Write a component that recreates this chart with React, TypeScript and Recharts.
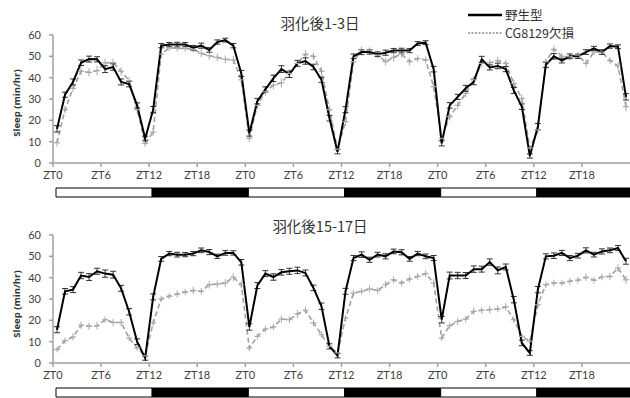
import React from 'react';
import { LineChart, Line, XAxis, YAxis, ErrorBar, BarChart, Bar } from 'recharts';

// hourly sleep (min/hr), 3 consecutive days (72 hours)
const youngWT = [
  16, 32, 38, 47, 48.7, 48.6, 44, 45, 38, 37, 27, 11.5, 25, 55, 55.5, 55.5, 55.5, 54, 55, 53, 56.7, 57.6, 55, 42,
  14, 29, 34.5, 39.7, 44, 41.6, 46.7, 47.8, 45, 39, 21, 5.3, 25, 50, 52, 52, 51, 51.7, 52.7, 52.7, 52.7, 56, 56.4, 44,
  9.2, 27, 31, 35, 38, 48.6, 44.8, 45.5, 44, 34, 26.4, 3.3, 17, 46, 50, 48, 50, 50, 52, 53.7, 52, 54.8, 54.5, 31,
];
const youngMut = [
  9.5, 25, 35, 43, 42.5, 43.3, 47, 47, 43, 38.6, 25, 9.2, 14.5, 51, 54, 53.7, 53.7, 53.3, 51.4, 50.3, 49.5, 48.6, 48.3, 39,
  11.6, 27, 33.4, 36.5, 37.6, 42, 46.7, 51, 50, 43, 25, 6.5, 19.4, 47.5, 53, 52.7, 50.6, 47.5, 49.5, 51, 47.5, 49, 48.3, 35.8,
  11.6, 21.7, 27, 32.6, 39, 46.7, 47, 48, 46.7, 37.3, 30.3, 7, 15.5, 47.5, 53.3, 50, 49.8, 50.6, 46.7, 52, 52, 48, 45.5, 26.4,
];
const oldWT = [
  15.6, 33.6, 34.4, 41, 40.3, 43, 41.9, 41.4, 35, 24, 10, 2.3, 31, 48.8, 51.3, 50.8, 50.8, 51.3, 52.8, 52, 50, 51.6, 51.6, 47.2,
  16.9, 36.3, 41.9, 40.3, 42.5, 43, 43.4, 42.2, 35.2, 26.6, 7.8, 3.4, 33.6, 49.2, 50.8, 48.4, 50.8, 50, 52.3, 51.9, 48.8, 51.3, 50, 49.2,
  20.3, 41, 41, 41, 44, 44, 47.3, 43.4, 45, 29.7, 9.4, 4.7, 34.4, 50, 50.3, 51.6, 49.2, 50.3, 52.8, 50.8, 52.3, 52.8, 53.9, 47.7,
];
const oldMut = [
  6.3, 10.5, 12.2, 17.7, 17.2, 17.5, 20.3, 19, 19, 11.7, 7, 3.4, 18.8, 30, 31.3, 32.3, 33.3, 34, 33.6, 36.7, 37, 37.5, 40.2, 36.7,
  7, 12.5, 15.9, 16.9, 20.6, 20.3, 23, 24.7, 18.8, 13.3, 7.8, 4.7, 21, 32.8, 33.6, 34.7, 34, 36.7, 39, 37.5, 39.4, 40.6, 41.9, 37.5,
  11.7, 17.5, 19.5, 20.6, 24.2, 24.7, 25, 25.3, 26.3, 20.3, 12.5, 10.2, 27.3, 36.7, 37.5, 37.5, 38.3, 38.8, 40.2, 38.8, 40.3, 40.6, 44.5, 39,
];

// standard errors
const youngWTErr = [
  1.5, 1.2, 1.4, 1.3, 1.4, 1.2, 1.6, 1.5, 1.4, 1.3, 1.2, 1.1, 1.5, 1.0, 1.0, 1.1, 1.0, 1.1, 1.2, 1.1, 1.0, 0.9, 1.0, 1.4,
  1.4, 1.3, 1.2, 1.5, 1.6, 1.5, 1.4, 1.5, 1.3, 1.2, 1.3, 1.0, 1.4, 1.1, 1.2, 1.0, 1.1, 1.2, 1.0, 1.1, 1.0, 0.9, 0.9, 1.3,
  1.2, 1.3, 1.2, 1.4, 1.3, 1.4, 1.2, 1.3, 1.2, 1.4, 1.3, 1.0, 1.5, 1.2, 1.3, 1.1, 1.1, 1.0, 1.1, 1.0, 1.1, 1.0, 0.9, 1.5,
];
const youngMutErr = [
  1.8, 1.6, 1.7, 1.9, 2.0, 2.2, 1.9, 1.8, 2.0, 1.7, 1.8, 1.5, 1.9, 1.6, 1.5, 1.4, 1.5, 1.6, 1.8, 1.9, 1.8, 1.7, 1.9, 2.0,
  1.7, 1.8, 1.9, 2.0, 2.1, 1.8, 1.7, 1.9, 1.8, 2.0, 1.9, 1.4, 1.8, 1.7, 1.6, 1.5, 1.6, 1.8, 1.9, 1.7, 1.8, 1.6, 1.7, 2.0,
  1.6, 1.8, 1.9, 1.8, 1.7, 1.8, 1.6, 1.7, 1.8, 1.9, 1.7, 1.4, 1.8, 1.6, 1.7, 1.5, 1.6, 1.5, 1.8, 1.6, 1.5, 1.7, 1.8, 2.2,
];
const oldWTErr = [
  1.4, 1.3, 1.4, 1.5, 1.6, 1.4, 1.7, 1.6, 1.4, 1.5, 1.3, 1.0, 1.4, 1.1, 1.0, 1.1, 1.0, 1.0, 1.1, 1.2, 1.0, 1.1, 1.0, 1.3,
  1.5, 1.4, 1.4, 1.5, 1.3, 1.4, 1.5, 1.4, 1.3, 1.5, 1.2, 1.0, 1.4, 1.2, 1.3, 1.2, 1.1, 1.2, 1.1, 1.2, 1.1, 1.0, 1.1, 1.2,
  1.5, 1.6, 1.5, 1.4, 1.5, 1.4, 1.5, 1.6, 1.4, 1.5, 1.3, 1.1, 1.5, 1.2, 1.3, 1.2, 1.2, 1.1, 1.2, 1.1, 1.2, 1.1, 1.2, 1.4,
];
const oldMutErr = [
  1.3, 1.5, 1.6, 1.7, 1.6, 1.8, 1.5, 1.7, 1.6, 1.5, 1.3, 1.0, 1.6, 1.5, 1.4, 1.6, 1.5, 1.7, 1.6, 1.8, 1.7, 1.8, 1.9, 1.7,
  1.4, 1.5, 1.6, 1.5, 1.7, 1.6, 1.8, 1.7, 1.6, 1.5, 1.3, 1.1, 1.6, 1.5, 1.4, 1.6, 1.5, 1.7, 1.6, 1.5, 1.7, 1.6, 1.7, 1.8,
  1.4, 1.5, 1.6, 1.5, 1.7, 1.6, 1.7, 1.6, 1.8, 1.5, 1.4, 1.2, 1.6, 1.5, 1.6, 1.5, 1.6, 1.5, 1.7, 1.6, 1.5, 1.6, 1.8, 1.9,
];

const xTicks = [0, 6, 12, 18, 24, 30, 36, 42, 48, 54, 60, 66];
const xTickLabels = ['ZT0', 'ZT6', 'ZT12', 'ZT18', 'ZT0', 'ZT6', 'ZT12', 'ZT18', 'ZT0', 'ZT6', 'ZT12', 'ZT18'];
const yTicks = [0, 10, 20, 30, 40, 50, 60];
const lightDark = ['light', 'dark', 'light', 'dark', 'light', 'dark'];
const phaseHours = [12, 12, 12, 12, 12, 12];

const panelTitles = ['羽化後1-3日', '羽化後15-17日'];
const seriesNames = ['野生型', 'CG8129欠損'];

const buildRows = (wt: number[], mut: number[], wtErr: number[], mutErr: number[]) =>
  wt.map((v, i) => ({ h: i + 0.5, wt: v, mut: mut[i], wtErr: wtErr[i], mutErr: mutErr[i] }));

const ldRow: Record<string, any> = { name: 'ld' };
phaseHours.forEach((v, i) => (ldRow['s' + i] = v));

const FONT = 'Lato, "Open Sans", sans-serif';
const TICK = { fill: '#404040', fontSize: 11, fontFamily: FONT };
const AXIS = '#a0a0a0';

const MutDot = (p: any) => {
  if (p.cx == null || p.cy == null) return null;
  return <line x1={p.cx - 3} x2={p.cx + 3} y1={p.cy} y2={p.cy} stroke="#a8a8a8" strokeWidth={1.2} />;
};

function Panel({ rows }: { rows: any[] }) {
  return (
    <LineChart width={630} height={191} data={rows} margin={{ top: 35, right: 0, left: 0, bottom: 0 }}>
      <XAxis
        dataKey="h"
        type="number"
        domain={[0, 72]}
        ticks={xTicks}
        tickFormatter={(v: number) => xTickLabels[xTicks.indexOf(v)]}
        interval={0}
        height={28}
        tickSize={4}
        tickMargin={4}
        stroke={AXIS}
        strokeWidth={1.5}
        tick={TICK}
        allowDataOverflow
      />
      <YAxis
        type="number"
        domain={[0, 60]}
        ticks={yTicks}
        width={53}
        tickSize={4}
        tickMargin={8}
        stroke={AXIS}
        strokeWidth={1.5}
        tick={TICK}
        interval={0}
      />
      <Line
        dataKey="mut"
        stroke="#a0a0a0"
        strokeWidth={1.6}
        strokeDasharray="5 3"
        dot={<MutDot />}
        isAnimationActive={false}
      >
        <ErrorBar dataKey="mutErr" width={0} stroke="#a8a8a8" strokeWidth={1} direction="y" />
      </Line>
      <Line dataKey="wt" stroke="#000" strokeWidth={2} dot={false} isAnimationActive={false}>
        <ErrorBar dataKey="wtErr" width={3} stroke="#333" strokeWidth={1} direction="y" />
      </Line>
    </LineChart>
  );
}

function LDBar() {
  return (
    <BarChart
      width={633}
      height={11}
      data={[ldRow]}
      layout="vertical"
      barCategoryGap={0}
      margin={{ top: 1, right: 0, left: 56, bottom: 1 }}
    >
      <XAxis type="number" domain={[0, 72]} hide />
      <YAxis type="category" dataKey="name" hide />
      {lightDark.map((ph, i) => (
        <Bar
          key={i}
          dataKey={'s' + i}
          stackId="ld"
          fill={ph === 'dark' ? '#000' : '#fff'}
          stroke="#000"
          strokeWidth={1}
          isAnimationActive={false}
        />
      ))}
    </BarChart>
  );
}

const titleStyle: React.CSSProperties = {
  position: 'absolute',
  width: 300,
  left: 170,
  textAlign: 'center',
  fontFamily: '"Noto Sans CJK JP", sans-serif',
  fontSize: 14.5,
  color: '#333',
  lineHeight: '18px',
};

const yLabelStyle: React.CSSProperties = {
  position: 'absolute',
  left: 17,
  width: 100,
  marginLeft: -50,
  textAlign: 'center',
  transform: 'rotate(-90deg)',
  fontFamily: '"Open Sans", sans-serif',
  fontWeight: 700,
  fontSize: 9.5,
  color: '#333',
  lineHeight: '12px',
};

export default function App() {
  const youngRows = buildRows(youngWT, youngMut, youngWTErr, youngMutErr);
  const oldRows = buildRows(oldWT, oldMut, oldWTErr, oldMutErr);
  return (
    <div style={{ position: 'absolute', left: 0, top: 0, width: 630, height: 398, background: '#fff', overflow: 'hidden' }}>
      <div style={{ position: 'absolute', left: 0, top: 0 }}>
        <Panel rows={youngRows} />
      </div>
      <div style={{ position: 'absolute', left: 0, top: 200 }}>
        <Panel rows={oldRows} />
      </div>
      <div style={{ position: 'absolute', left: 0, top: 187 }}>
        <LDBar />
      </div>
      <div style={{ position: 'absolute', left: 0, top: 387 }}>
        <LDBar />
      </div>

      <div style={{ ...titleStyle, top: 14 }}>{panelTitles[0]}</div>
      <div style={{ ...titleStyle, top: 217 }}>{panelTitles[1]}</div>

      <div style={{ ...yLabelStyle, top: 97 }}>Sleep (min/hr)</div>
      <div style={{ ...yLabelStyle, top: 298 }}>Sleep (min/hr)</div>

      <svg style={{ position: 'absolute', left: 466, top: 6 }} width={40} height={36}>
        <line x1={2} x2={36} y1={9} y2={9} stroke="#000" strokeWidth={2.5} />
        <line x1={2} x2={36} y1={27} y2={27} stroke="#a8a8a8" strokeWidth={2} strokeDasharray="2 1.5" />
      </svg>
      <div style={{ position: 'absolute', left: 505, top: 6, fontFamily: '"Noto Sans CJK JP", sans-serif', fontSize: 12.5, color: '#333', lineHeight: '18px' }}>
        {seriesNames[0]}
      </div>
      <div style={{ position: 'absolute', left: 505, top: 24, fontFamily: '"Noto Sans CJK JP", sans-serif', fontSize: 12.5, color: '#333', lineHeight: '18px' }}>
        {seriesNames[1]}
      </div>
    </div>
  );
}
